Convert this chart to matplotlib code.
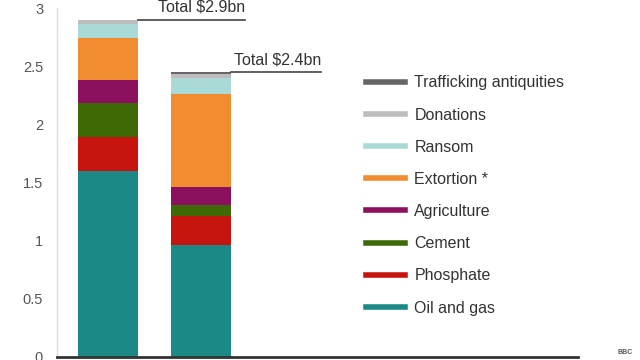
import matplotlib
matplotlib.use("Agg")
import matplotlib.pyplot as plt
from matplotlib.lines import Line2D

plt.rcParams['font.family'] = ['Liberation Sans', 'DejaVu Sans']

years = ["2014", "2015"]
categories = ["Oil and gas", "Phosphate", "Cement", "Agriculture",
              "Extortion *", "Ransom", "Donations", "Trafficking antiquities"]
oil_gas = [1.60, 0.96]
phosphate = [0.29, 0.25]
cement = [0.29, 0.10]
agriculture = [0.20, 0.15]
extortion = [0.36, 0.80]
ransom = [0.12, 0.14]
donations = [0.04, 0.03]
trafficking = [0.00, 0.02]
totals = ["Total $2.9bn", "Total $2.4bn"]
yticks = [0, 0.5, 1, 1.5, 2, 2.5, 3]
yticklabels = ["0", "0.5", "1", "1.5", "2", "2.5", "3"]

series = [oil_gas, phosphate, cement, agriculture, extortion, ransom, donations, trafficking]
colors = ["#1b8a87", "#c8140f", "#3d6a06", "#8b105e", "#f28c30",
          "#a9dad6", "#bdbdbd", "#666666"]

fig = plt.figure(figsize=(6.4, 3.6), dpi=100)
ax = fig.add_axes([57/640, 1 - 357/360, (578-57)/640, 349/360])

x = list(range(len(years)))
bottom = [0.0] * len(years)
for vals, c in zip(series, colors):
    ax.bar(x, vals, bottom=bottom, width=0.645, color=c, linewidth=0)
    bottom = [b + v for b, v in zip(bottom, vals)]

ax.set_xlim(-0.548, 5.05)
ax.set_ylim(0, 3.0)
ax.set_yticks(yticks)
ax.set_yticklabels(yticklabels, fontsize=10.5, color="#555555")
ax.tick_params(axis='y', length=0, pad=10)
ax.set_xticks([])
for s in ["top", "right"]:
    ax.spines[s].set_visible(False)
ax.spines["left"].set_color("#dddddd")
ax.spines["left"].set_linewidth(1)
ax.spines["bottom"].set_color("#333333")
ax.spines["bottom"].set_linewidth(2)

# total annotations
for i, (tot, lab) in enumerate(zip(bottom, totals)):
    x0 = i + 0.3225
    x1 = x0 + 1.15 if i == 0 else x0 + 0.97
    ax.plot([x0, x1], [tot, tot], color="#444444", lw=1.2, clip_on=False)
    ax.text(x1, tot + 0.04, lab, ha="right", va="bottom", fontsize=11.5, color="#333333")

# legend
handles = [Line2D([0], [0], color=c, lw=4) for c in colors]
leg = fig.legend(handles[::-1], categories[::-1], loc="upper left",
                 bbox_to_anchor=(352/640, 1 - 61/360), frameon=False,
                 fontsize=11.5, handlelength=2.4, handletextpad=0.6,
                 labelspacing=1.075, labelcolor="#333333")

fig.text(625/640, 1 - 352/360, "BBC", fontsize=5, color="#555555",
         ha="center", va="center", fontweight="bold")

fig.savefig("out.png", dpi=100)
